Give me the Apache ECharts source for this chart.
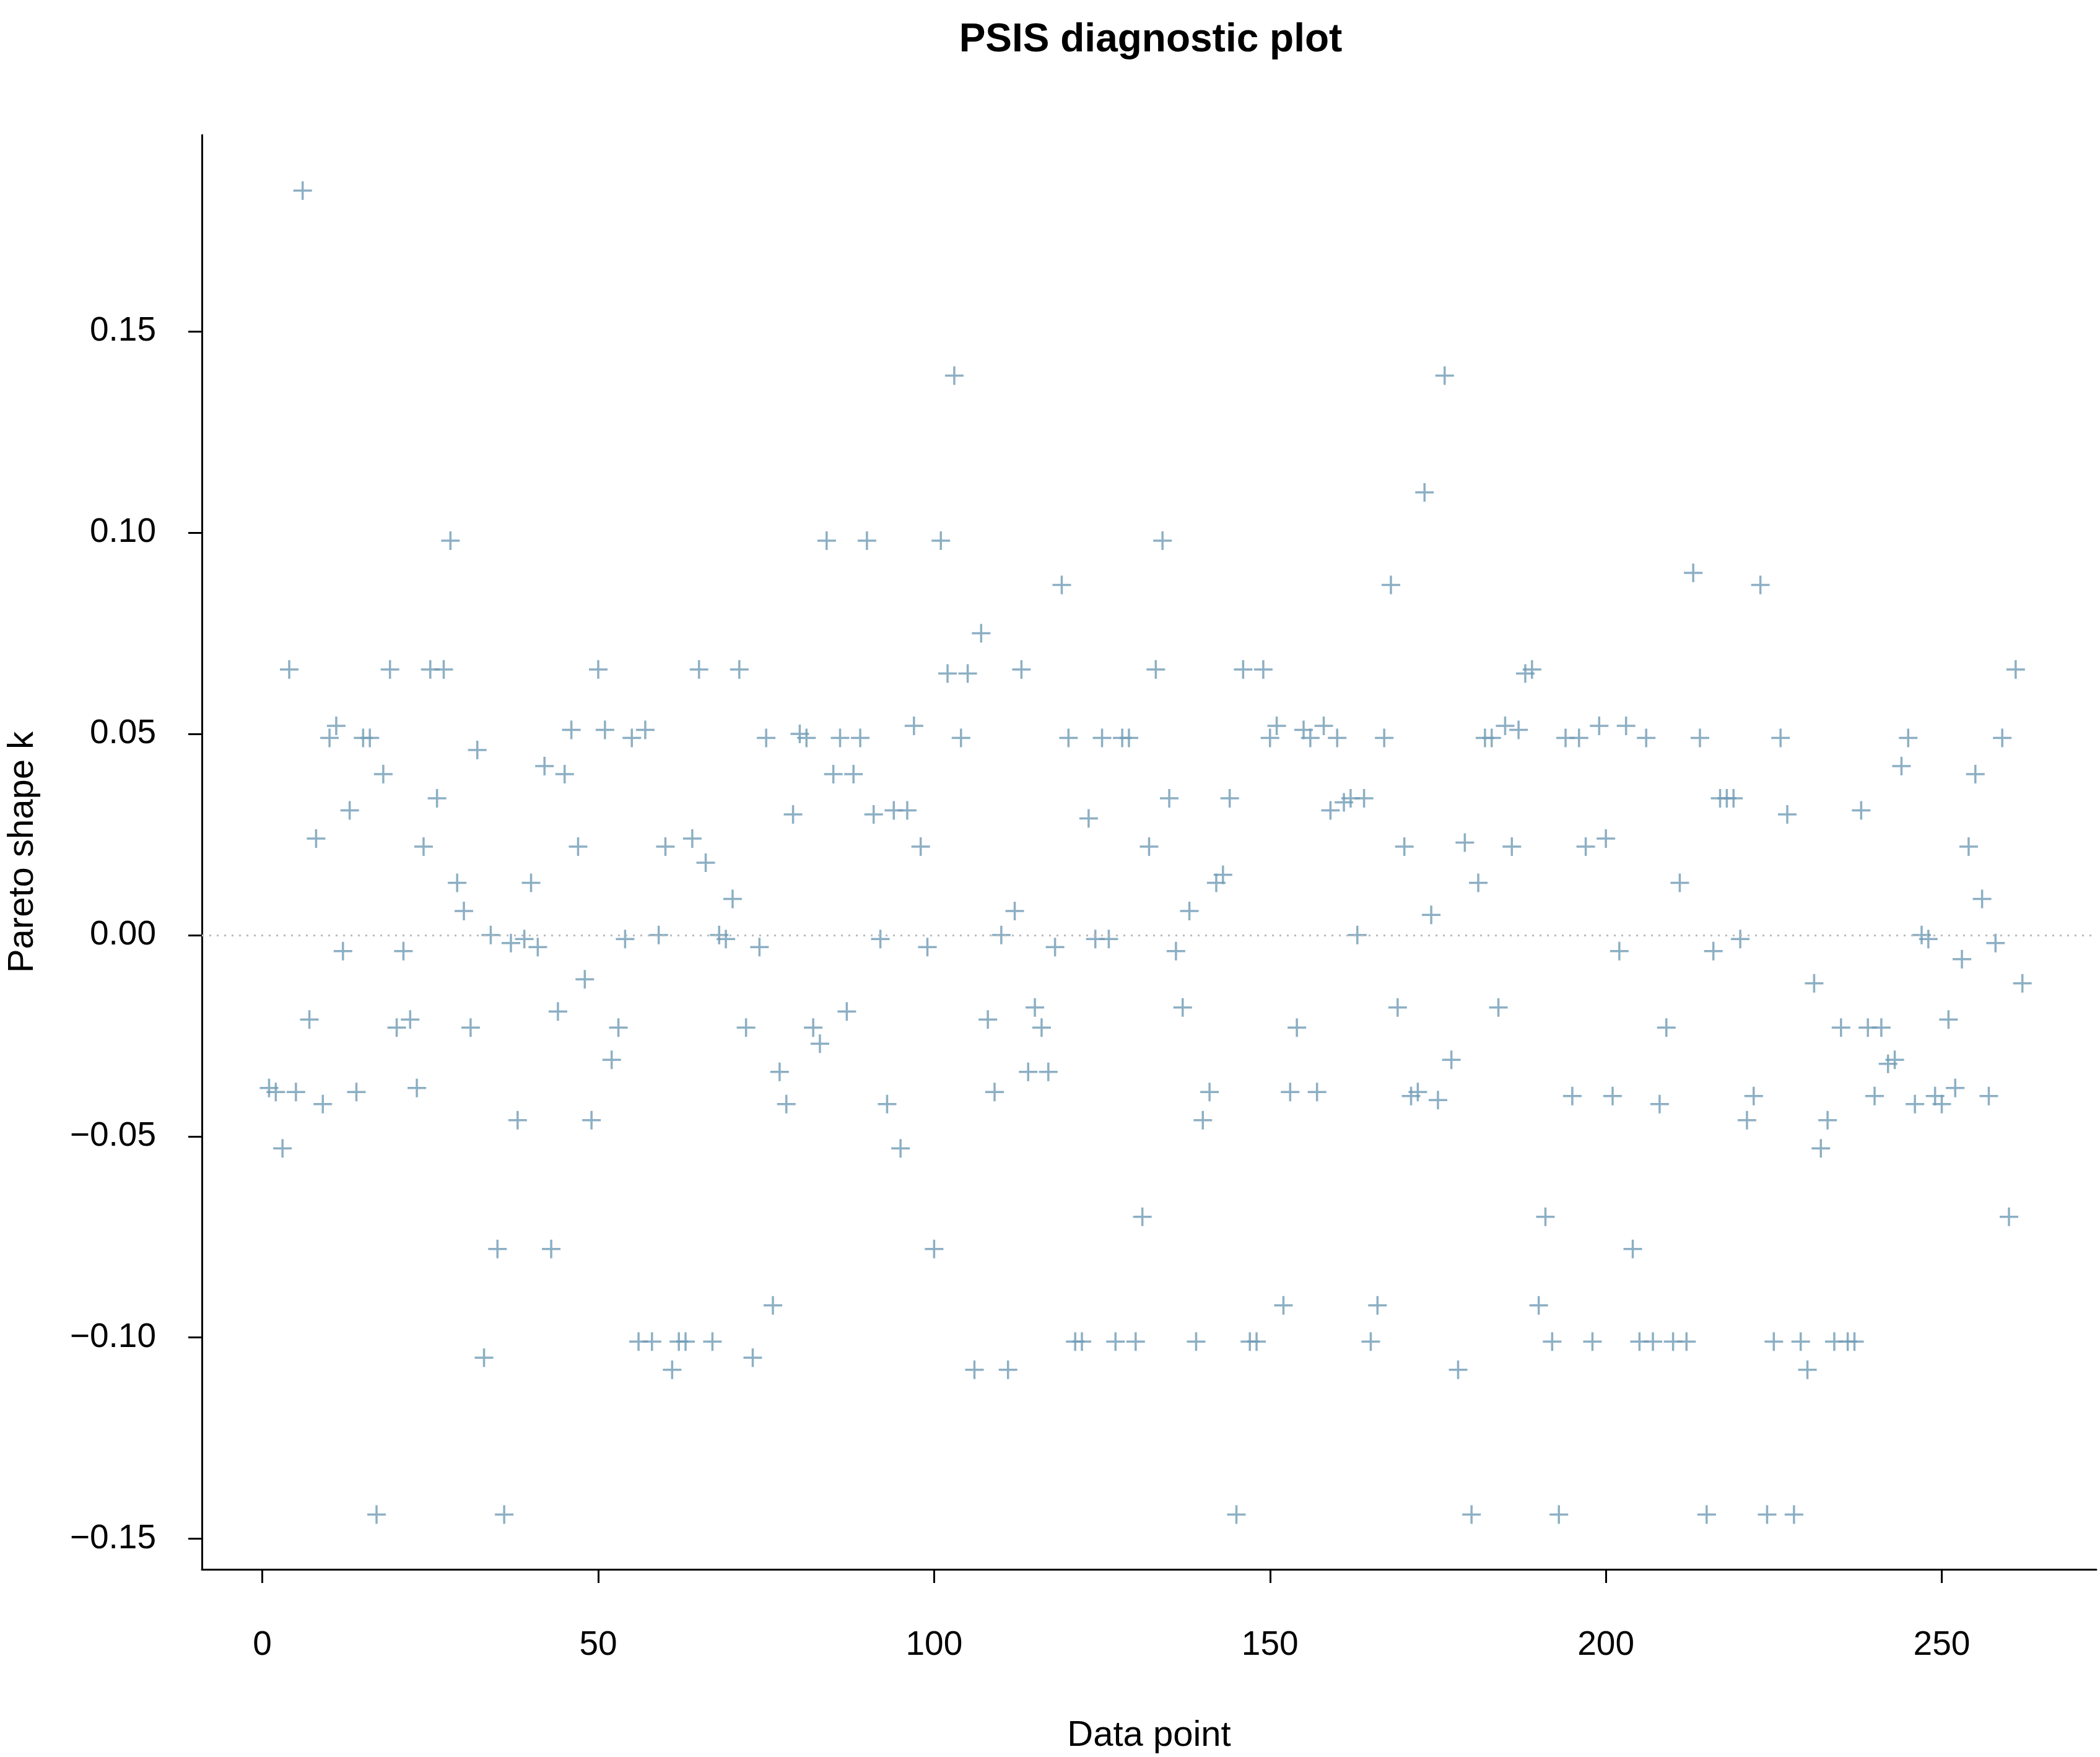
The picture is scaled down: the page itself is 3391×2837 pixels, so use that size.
<!DOCTYPE html>
<html><head><meta charset="utf-8">
<script src="https://cdn.jsdelivr.net/npm/echarts@6/dist/echarts.min.js"></script>
<style>html,body{margin:0;padding:0;background:#fff}#c{width:3391px;height:2837px}</style>
</head><body><div id="c"></div>
<script>
const kValues = [
-0.038,-0.039,-0.053,0.066,-0.039,0.185,-0.021,0.024,-0.042,0.049,
0.052,-0.004,0.031,-0.039,0.049,0.049,-0.144,0.040,0.066,-0.023,
-0.004,-0.021,-0.038,0.022,0.066,0.034,0.066,0.098,0.013,0.006,
-0.023,0.046,-0.105,0.000,-0.078,-0.144,-0.002,-0.046,-0.001,0.013,
-0.003,0.042,-0.078,-0.019,0.040,0.051,0.022,-0.011,-0.046,0.066,
0.051,-0.031,-0.023,-0.001,0.049,-0.101,0.051,-0.101,0.000,0.022,
-0.108,-0.101,-0.101,0.024,0.066,0.018,-0.101,0.000,-0.001,0.009,
0.066,-0.023,-0.105,-0.003,0.049,-0.092,-0.034,-0.042,0.030,0.050,
0.049,-0.023,-0.027,0.098,0.040,0.049,-0.019,0.040,0.049,0.098,
0.030,-0.001,-0.042,0.031,-0.053,0.031,0.052,0.022,-0.003,-0.078,
0.098,0.065,0.139,0.049,0.065,-0.108,0.075,-0.021,-0.039,0.000,
-0.108,0.006,0.066,-0.034,-0.018,-0.023,-0.034,-0.003,0.087,0.049,
-0.101,-0.101,0.029,-0.001,0.049,-0.001,-0.101,0.049,0.049,-0.101,
-0.070,0.022,0.066,0.098,0.034,-0.004,-0.018,0.006,-0.101,-0.046,
-0.039,0.013,0.015,0.034,-0.144,0.066,-0.101,-0.101,0.066,0.049,
0.052,-0.092,-0.039,-0.023,0.051,0.049,-0.039,0.052,0.031,0.049,
0.033,0.034,0.000,0.034,-0.101,-0.092,0.049,0.087,-0.018,0.022,
-0.040,-0.039,0.110,0.005,-0.041,0.139,-0.031,-0.108,0.023,-0.144,
0.013,0.049,0.049,-0.018,0.052,0.022,0.051,0.065,0.066,-0.092,
-0.070,-0.101,-0.144,0.049,-0.040,0.049,0.022,-0.101,0.052,0.024,
-0.040,-0.004,0.052,-0.078,-0.101,0.049,-0.101,-0.042,-0.023,-0.101,
0.013,-0.101,0.090,0.049,-0.144,-0.004,0.034,0.034,0.034,-0.001,
-0.046,-0.040,0.087,-0.144,-0.101,0.049,0.030,-0.144,-0.101,-0.108,
-0.012,-0.053,-0.046,-0.101,-0.023,-0.101,-0.101,0.031,-0.023,-0.040,
-0.023,-0.032,-0.031,0.042,0.049,-0.042,0.000,-0.001,-0.040,-0.042,
-0.021,-0.038,-0.006,0.022,0.040,0.009,-0.040,-0.002,0.049,-0.070,
0.066,-0.012];
const xTicks = [0,50,100,150,200,250];
const yTicks = [-0.15,-0.10,-0.05,0.00,0.05,0.10,0.15];
const pts = kValues.map((v,i)=>[i+1,v]);
const font = 'Liberation Sans, Arial, sans-serif';
const chart = echarts.init(document.getElementById('c'));
chart.setOption({
  animation:false,
  backgroundColor:'#fff',
  title:{text:'PSIS diagnostic plot',left:1853,textAlign:'center',top:28,
    textStyle:{fontFamily:font,fontSize:64,fontWeight:'bold',color:'#000'}},
  grid:{left:318,right:6,top:218,bottom:302},
  xAxis:{type:'value',min:-9,max:273,name:'Data point',nameLocation:'middle',nameGap:240,
    nameTextStyle:{fontFamily:font,fontSize:58,color:'#000'},
    splitLine:{show:false},
    axisLine:{onZero:false,lineStyle:{color:'#000',width:3}},
    axisTick:{customValues:xTicks,length:22,lineStyle:{color:'#000',width:3}},
    axisLabel:{customValues:xTicks,margin:95,fontFamily:font,fontSize:55,color:'#000'}},
  yAxis:{type:'value',min:-0.1576,max:0.1988,name:'Pareto shape k',nameLocation:'middle',nameGap:260,
    nameTextStyle:{fontFamily:font,fontSize:58,color:'#000'},
    splitLine:{show:false},
    axisLine:{show:true,onZero:false,lineStyle:{color:'#000',width:3}},
    axisTick:{show:true,customValues:yTicks,length:22,lineStyle:{color:'#000',width:3}},
    axisLabel:{customValues:yTicks,margin:74,fontFamily:font,fontSize:55,color:'#000',
      formatter:v=>v.toFixed(2).replace('-','\u2212')}},
  series:[{type:'scatter',data:pts,symbol:'path://M0,5L10,5M5,0L5,10',symbolSize:30,
    itemStyle:{color:'none',borderColor:'#6f9bb5',borderWidth:3.5},
    markLine:{silent:true,symbol:'none',label:{show:false},
      lineStyle:{color:'#bbbbbb',type:[3,9],width:3},data:[{yAxis:0}]}}]
});
</script></body></html>
